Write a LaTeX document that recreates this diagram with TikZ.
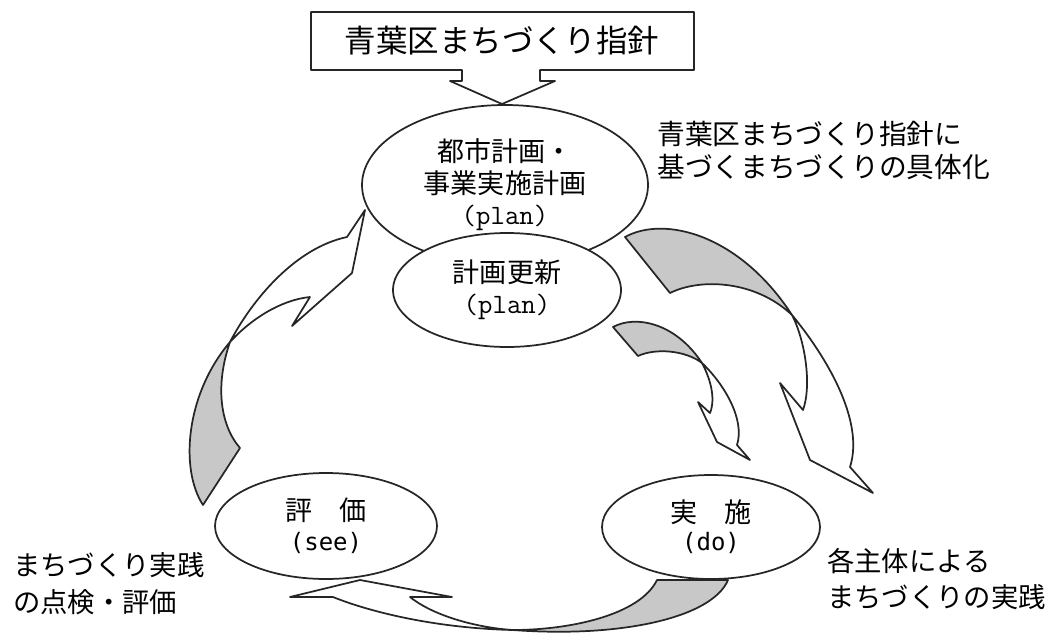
\documentclass[tikz,border=0pt]{standalone}
\usepackage{fontspec}
\setmainfont{Noto Sans CJK JP}
\newfontfamily\halfsans{DejaVu Sans Mono}
\usetikzlibrary{shapes.geometric}
\definecolor{shade}{RGB}{200,200,200}
\begin{document}
\begin{tikzpicture}[x=0.75pt,y=-0.75pt,
  outl/.style={draw=black!85,line width=1.3pt,line join=round},
  band/.style={outl,fill=white},
  under/.style={outl,fill=shade},
  oval/.style={ellipse,draw=black!85,line width=1.3pt,fill=white,inner sep=0pt,align=center},
  note/.style={align=left,anchor=west,inner sep=0pt}]
\useasboundingbox (0,0) rectangle (1052,632);
\fill[white] (0,0) rectangle (1052,632);

% top callout
\draw[band] (311,12) -- (694,12) -- (694,70) -- (540,70) -- (540,81) -- (555,81)
  -- (502,104) -- (450,81) -- (462,81) -- (462,70) -- (311,70) -- cycle;
\node[inner sep=0pt,font=\fontsize{23.6}{28}\selectfont] (guide) at (502,41) {青葉区まちづくり指針};

% arrow A (plan -> do, outer)
\draw[under] (625,237) -- (670,293) .. controls (700,278) and (755,280) .. (792,315)
  .. controls (740,235) and (665,215) .. (625,237) -- cycle;
\draw[band] (792,315) .. controls (825,355) and (865,420) .. (850,467) -- (873,493)
  -- (810,460) -- (780,383) -- (803,410) .. controls (812,385) and (805,340) .. (792,315) -- cycle;

% arrow B (update -> do, inner)
\draw[under] (613,327) -- (638,356) .. controls (655,348) and (685,350) .. (702,363)
  .. controls (675,322) and (635,315) .. (613,327) -- cycle;
\draw[band] (702,363) .. controls (725,385) and (745,420) .. (737,445) -- (750,460)
  -- (717,442) -- (698,402) -- (710,413) .. controls (716,398) and (710,378) .. (702,363) -- cycle;

% arrow C (see -> plan)
\draw[under] (203,505) -- (240,448) .. controls (220,425) and (215,385) .. (230,342)
  .. controls (185,395) and (180,470) .. (203,505) -- cycle;
\draw[band] (230,342) .. controls (252,300) and (295,248) .. (347,237) -- (365,210)
  -- (352,273) -- (292,326) -- (310,297) .. controls (280,300) and (250,320) .. (230,342) -- cycle;

% arrow D (do -> see)
\draw[under] (513,630) .. controls (570,630) and (640,615) .. (657,580) -- (728,580)
  .. controls (712,618) and (620,638) .. (513,630) -- cycle;
\draw[band] (290,597) -- (333,597) .. controls (365,610) and (430,628) .. (513,630)
  .. controls (480,628) and (435,617) .. (410,597) -- (452,597) -- (360,580) -- cycle;

% ellipses
\node[oval,minimum width=214.5pt,minimum height=120pt,font=\fontsize{20.3}{23.6}\selectfont]
  (plan) at (505,185) {都市計画・\\事業実施計画\\{\ttfamily\fontsize{21}{23.6}\selectfont (plan)}};
\node[oval,minimum width=171pt,minimum height=85.5pt,font=\fontsize{20.3}{23.2}\selectfont]
  (upd) at (507,290) {計画更新\\{\ttfamily\fontsize{21}{23.2}\selectfont (plan)}};
\node[oval,minimum width=166.5pt,minimum height=79.5pt,font=\fontsize{20.3}{22.5}\selectfont]
  (see) at (326,526) {評　価\\{\halfsans\fontsize{18}{22.5}\selectfont (see)}};
\node[oval,minimum width=163.5pt,minimum height=78pt,font=\fontsize{20.3}{21}\selectfont]
  (do) at (711,527) {実　施\\{\halfsans\fontsize{18}{21}\selectfont (do)}};

% notes
\node[note,font=\fontsize{20.8}{24.8}\selectfont] (noteplan) at (657,150)
  {青葉区まちづくり指針に\\基づくまちづくりの具体化};
\node[note,font=\fontsize{20.5}{27.7}\selectfont] (notedo) at (827,579)
  {各主体による\\まちづくりの実践};
\node[note,font=\fontsize{20.5}{27.7}\selectfont] (notesee) at (13,584)
  {まちづくり実践\\の点検・評価};
\end{tikzpicture}
\end{document}
